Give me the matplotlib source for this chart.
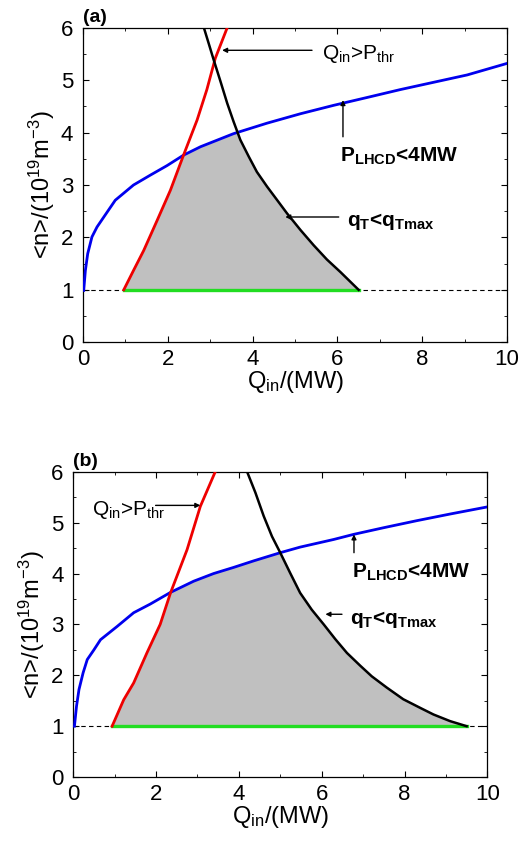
import numpy as np
import matplotlib
matplotlib.use("Agg")
import matplotlib.pyplot as plt
from matplotlib.ticker import MultipleLocator

plt.rcParams['font.family'] = ['Liberation Sans', 'DejaVu Sans']
plt.rcParams['mathtext.fontset'] = 'custom'
plt.rcParams['mathtext.rm'] = 'Liberation Sans'
plt.rcParams['mathtext.it'] = 'Liberation Sans'
plt.rcParams['mathtext.bf'] = 'Liberation Sans:bold'
plt.rcParams['mathtext.default'] = 'regular'

# ---- panel (a) data ----
a_blue_x = [0.016, 0.055, 0.11, 0.21, 0.33, 0.49, 0.76, 1.19, 1.59, 1.98, 2.37,
            2.77, 3.55, 4.34, 5.13, 5.91, 6.70, 7.48, 8.27, 9.06, 10.0]
a_blue_y = [0.99, 1.37, 1.69, 2.01, 2.20, 2.39, 2.71, 3.00, 3.19, 3.37, 3.57,
            3.73, 3.98, 4.18, 4.36, 4.52, 4.67, 4.82, 4.96, 5.10, 5.32]
a_red_x = [0.96, 1.19, 1.43, 1.75, 2.06, 2.37, 2.69, 2.92, 3.12, 3.40]
a_red_y = [1.00, 1.37, 1.75, 2.33, 2.90, 3.57, 4.24, 4.82, 5.42, 6.00]
a_black_x = [2.85, 2.96, 3.08, 3.24, 3.40, 3.55, 3.71, 3.91, 4.10, 4.34, 4.58,
             4.81, 5.13, 5.44, 5.75, 6.07, 6.50]
a_black_y = [6.00, 5.71, 5.39, 4.98, 4.56, 4.21, 3.86, 3.54, 3.25, 2.97, 2.71,
             2.46, 2.14, 1.85, 1.58, 1.34, 1.00]
a_green_x = [0.96, 6.5]
a_green_y = [1.0, 1.0]

# ---- panel (b) data ----
b_blue_x = [0.03, 0.08, 0.14, 0.24, 0.34, 0.50, 0.66, 1.06, 1.46, 1.86, 2.35,
            2.91, 3.39, 3.87, 4.36, 5.00, 5.48, 6.29, 6.77, 7.49, 8.30, 9.10, 10.0]
b_blue_y = [1.00, 1.39, 1.72, 2.05, 2.31, 2.50, 2.70, 2.96, 3.23, 3.40, 3.63,
            3.85, 4.00, 4.12, 4.25, 4.41, 4.52, 4.67, 4.77, 4.90, 5.04, 5.17, 5.31]
b_red_x = [0.94, 1.22, 1.46, 1.78, 2.10, 2.35, 2.75, 3.07, 3.43]
b_red_y = [1.00, 1.52, 1.85, 2.44, 3.00, 3.62, 4.47, 5.32, 6.00]
b_black_x = [4.20, 4.40, 4.60, 4.80, 5.00, 5.24, 5.48, 5.76, 6.05, 6.33, 6.61,
             6.93, 7.21, 7.57, 7.97, 8.38, 8.70, 9.10, 9.50]
b_black_y = [6.00, 5.59, 5.13, 4.73, 4.41, 4.01, 3.62, 3.29, 3.00, 2.71, 2.44,
             2.19, 1.98, 1.76, 1.53, 1.36, 1.23, 1.10, 1.00]
b_green_x = [0.94, 9.5]
b_green_y = [1.0, 1.0]

n_min = 1.0
xlim = (0, 10)
ylim = (0, 6)

fig = plt.figure(figsize=(5.19, 8.41), dpi=100)
ax_a = fig.add_axes([0.160, 0.593, 0.817, 0.374])
ax_b = fig.add_axes([0.141, 0.076, 0.798, 0.363])

lab_q = r'Q$_{in}$>P$_{thr}$'
lab_p = r'P$_{LHCD}$<4MW'
lab_t = r'q$_{T}$<q$_{Tmax}$'


def draw(ax, bx, by, rx, ry, kx, ky, gx, gy, tag, ann):
    # shaded operating window
    xs = np.linspace(gx[0], gx[1], 800)
    up = np.minimum(np.interp(xs, bx, by),
                    np.interp(xs, kx, ky, left=99))
    up = np.minimum(up, np.interp(xs, rx, ry, right=99))
    ax.fill_between(xs, n_min, up, color='#c0c0c0', lw=0, zorder=1)
    ax.axhline(n_min, color='black', lw=0.8, ls=(0, (4, 3)), zorder=2)
    ax.plot(gx, gy, color='#22dd22', lw=2.4, zorder=3)
    ax.plot(bx, by, color='#0000ee', lw=2.0, zorder=4)
    ax.plot(rx, ry, color='#ee0000', lw=2.0, zorder=4)
    ax.plot(kx, ky, color='black', lw=1.8, zorder=4)

    ax.set_xlim(*xlim)
    ax.set_ylim(*ylim)
    ax.xaxis.set_major_locator(MultipleLocator(2))
    ax.xaxis.set_minor_locator(MultipleLocator(1))
    ax.yaxis.set_major_locator(MultipleLocator(1))
    ax.yaxis.set_minor_locator(MultipleLocator(0.5))
    ax.tick_params(which='both', direction='in', top=True, right=True)
    ax.tick_params(which='major', length=4, labelsize=16)
    ax.tick_params(axis='x', which='major', pad=5)
    ax.tick_params(axis='y', which='major', pad=7)
    ax.tick_params(which='minor', length=2.5)
    for s in ax.spines.values():
        s.set_linewidth(0.9)
    ax.set_xlabel(r'Q$_{in}$/(MW)', fontsize=17, labelpad=-1)
    ax.set_ylabel(r'<n>/(10$^{19}$m$^{-3}$)', fontsize=17, labelpad=3)
    ax.text(0.0, 1.005, tag, transform=ax.transAxes, fontsize=14,
            fontweight='bold', ha='left', va='bottom')
    for txt, w, xy, xytext, tx, ty in ann:
        ax.annotate('', xy=xy, xytext=xytext,
                    arrowprops=dict(arrowstyle='-|>', color='black', lw=1.0,
                                    mutation_scale=7, shrinkA=0, shrinkB=0),
                    zorder=5)
        ax.text(tx, ty, txt, fontsize=15, fontweight=w,
                ha='left', va='center', zorder=5)


ann_a = [
    (lab_q, 'normal', (3.28, 5.57), (5.4, 5.57), 5.64, 5.5),
    (lab_p, 'bold', (6.13, 4.62), (6.13, 3.92), 6.07, 3.55),
    (lab_t, 'bold', (4.77, 2.39), (6.03, 2.39), 6.23, 2.3),
]
ann_b = [
    (lab_q, 'normal', (3.07, 5.34), (1.99, 5.34), 0.46, 5.24),
    (lab_p, 'bold', (6.78, 4.77), (6.78, 4.41), 6.73, 4.02),
    (lab_t, 'bold', (6.09, 3.2), (6.49, 3.2), 6.69, 3.1),
]

draw(ax_a, a_blue_x, a_blue_y, a_red_x, a_red_y, a_black_x, a_black_y,
     a_green_x, a_green_y, '(a)', ann_a)
draw(ax_b, b_blue_x, b_blue_y, b_red_x, b_red_y, b_black_x, b_black_y,
     b_green_x, b_green_y, '(b)', ann_b)

fig.savefig('out.png', dpi=100)
